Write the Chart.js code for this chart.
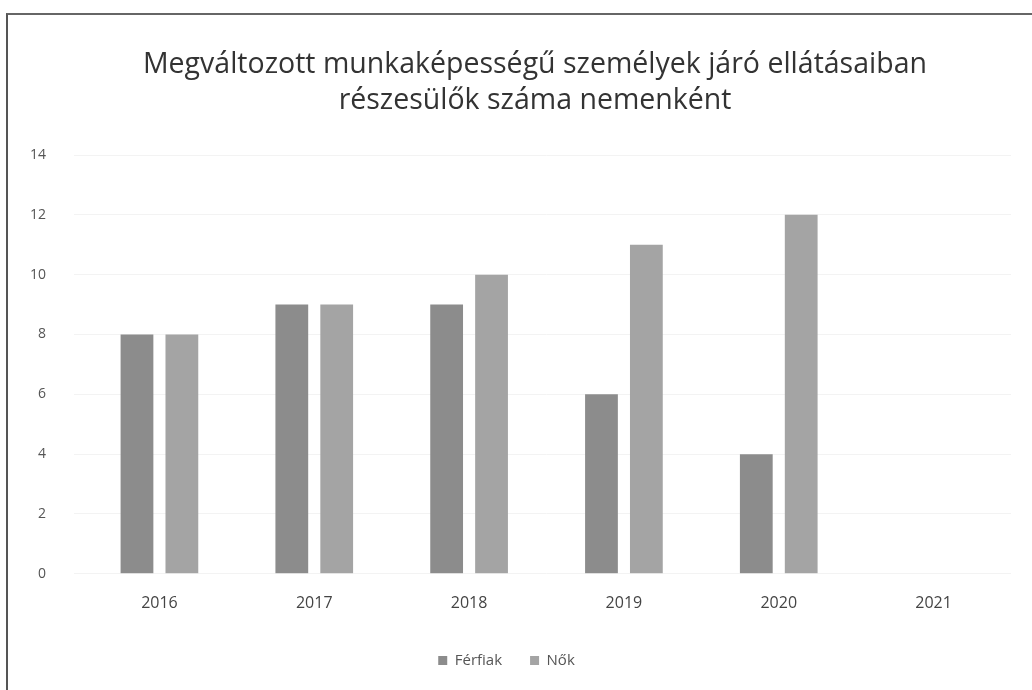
<!DOCTYPE html>
<html>
<head>
<meta charset="utf-8">
<script src="https://cdn.jsdelivr.net/npm/chart.js"></script>
<style>
  body { margin: 0; background: #fff; }
  #frame {
    position: absolute; left: 6px; top: 13px; width: 1026px; height: 677px;
    border-left: 2px solid #555; border-top: 2px solid #666;
  }
  #wrap { position: absolute; left: 0; top: 0; width: 1032px; height: 690px; }
  #title {
    position: absolute; left: 35px; width: 1000px; top: 44px;
    text-align: center; font-family: 'Open Sans'; font-size: 28.5px;
    line-height: 36px; color: #333;
  }
</style>
</head>
<body>
<div id="frame"></div>
<div id="wrap"><canvas id="chart"></canvas></div>
<div id="title"></div>
<script>
// data
const years = ['2016', '2017', '2018', '2019', '2020', '2021']
const ferfiak = [8, 9, 9, 6, 4, null]
const nok = [8, 9, 10, 11, 12, null]
const titleLines = ['Megváltozott munkaképességű személyek járó ellátásaiban', 'részesülők száma nemenként']

document.getElementById('title').innerHTML = titleLines.join('<br>')

document.addEventListener('DOMContentLoaded', function() {
    const ctx = document.getElementById('chart').getContext('2d')
    new Chart(ctx, {
        type: 'bar',
        data: {
            labels: years,
            datasets: [{
                label: 'Férfiak',
                backgroundColor: '#8c8c8c',
                data: ferfiak,
                categoryPercentage: 0.58,
                barPercentage: 0.73
            }, {
                label: 'Nők',
                backgroundColor: '#a4a4a4',
                data: nok,
                categoryPercentage: 0.58,
                barPercentage: 0.73
            }]
        },
        options: {
            responsive: true,
            maintainAspectRatio: false,
            animation: false,
            layout: { padding: { left: 2, right: 21, top: 155, bottom: 12 } },
            plugins: {
                legend: {
                    position: 'bottom',
                    labels: {
                        boxWidth: 9, boxHeight: 9, color: '#555',
                        font: { family: 'Open Sans', size: 15 },
                        padding: 28
                    }
                },
                tooltip: { enabled: false }
            },
            scales: {
                x: {
                    grid: { display: false },
                    border: { display: false },
                    ticks: { color: '#444', font: { family: 'Open Sans', size: 16 }, padding: 12 }
                },
                y: {
                    min: 0, max: 14,
                    grid: { color: '#f3f3f3' },
                    border: { display: false },
                    ticks: { stepSize: 2, color: '#555', font: { family: 'Open Sans', size: 14 }, padding: 28 }
                }
            }
        }
    })
})
</script>
</body>
</html>
